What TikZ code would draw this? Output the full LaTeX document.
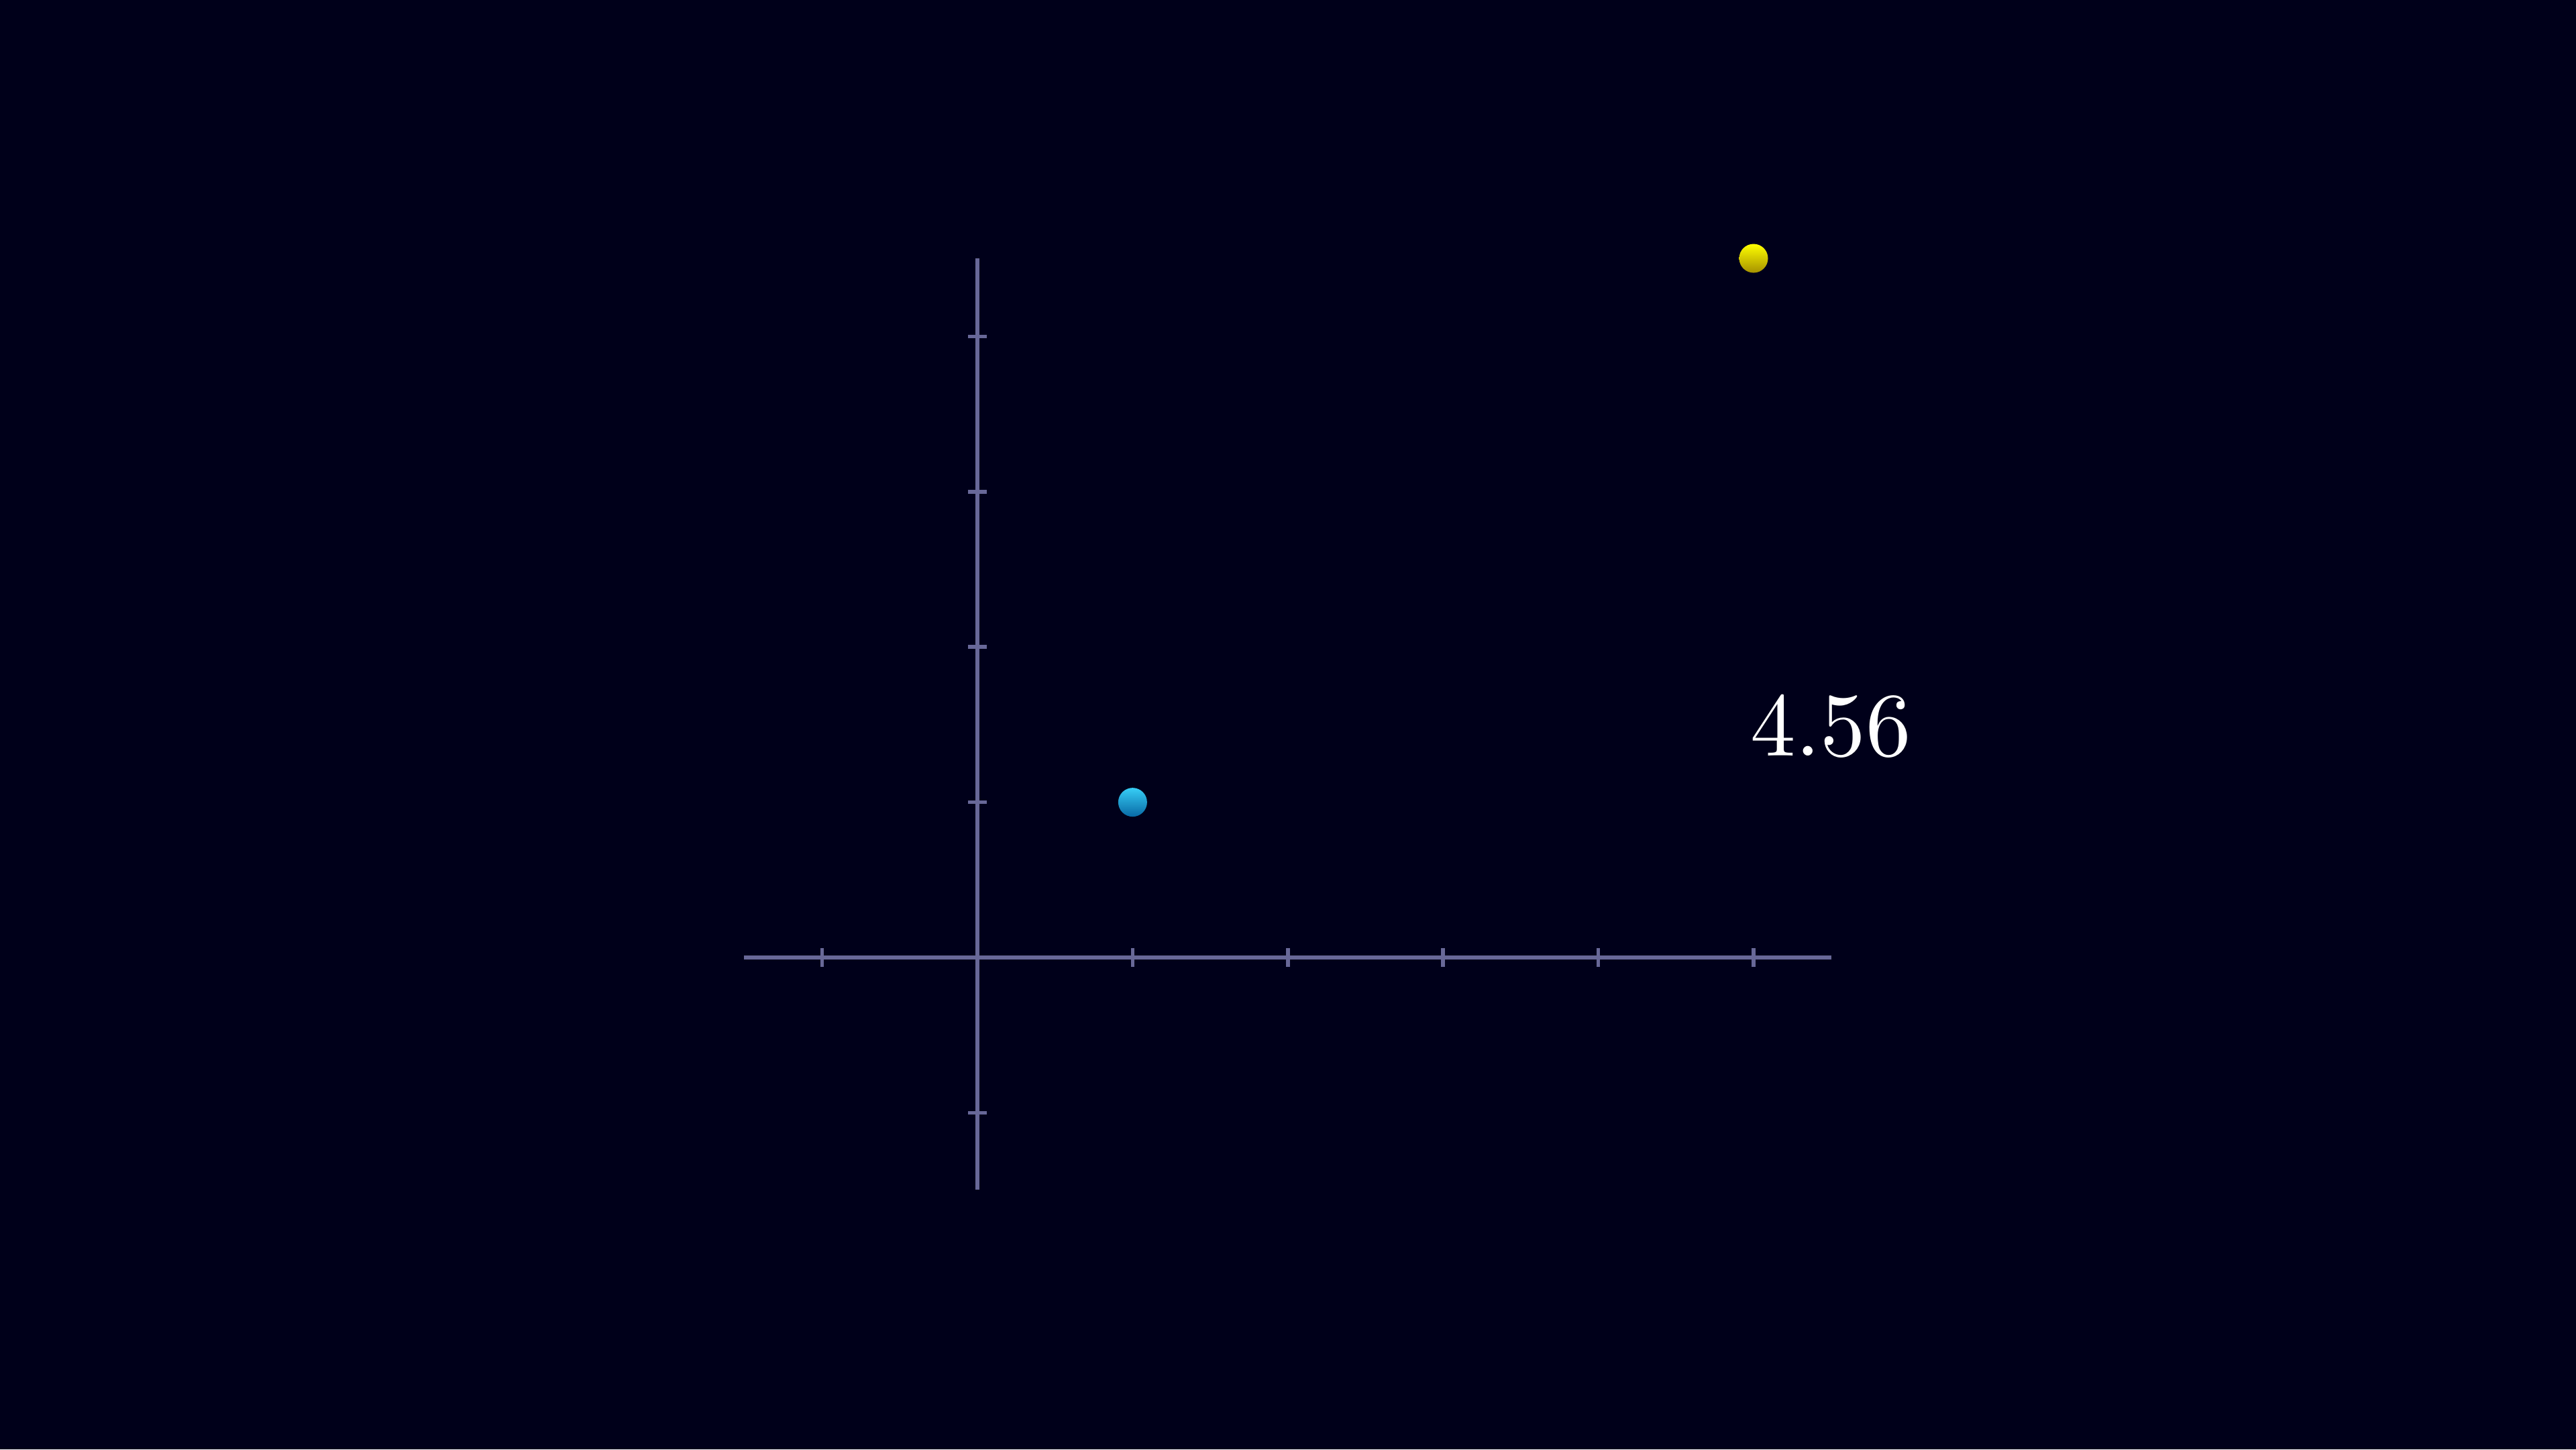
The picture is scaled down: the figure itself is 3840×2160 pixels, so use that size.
\documentclass[tikz,border=0pt]{standalone}
\usetikzlibrary{shadings}
\definecolor{bg}{RGB}{0,0,26}
\definecolor{axiscol}{RGB}{104,104,152}
\definecolor{bluetop}{RGB}{55,205,245}
\definecolor{bluebot}{RGB}{8,105,165}
\definecolor{yeltop}{RGB}{255,255,0}
\definecolor{yelbot}{RGB}{165,145,0}
\font\bignumfont=cmr10 at 13.5pt
\tikzset{
  axis/.style={draw=axiscol, line width=0.56pt},
  tickmark/.style={draw=axiscol, line width=0.56pt},
  bluedot/.style={circle, inner sep=0pt, minimum size=4.3pt, top color=bluetop, bottom color=bluebot, draw=none},
  yellowdot/.style={circle, inner sep=0pt, minimum size=4.3pt, top color=yeltop, bottom color=yelbot, draw=none},
  numlabel/.style={text=white, inner sep=0pt, anchor=base, font=\bignumfont}
}
\begin{document}
\begin{tikzpicture}[x=0.1pt,y=-0.1pt]
\fill[bg] (0,0) rectangle (3840,2160);
\useasboundingbox (0,0) rectangle (3840,2160);
% axes
\coordinate (xl) at (1109,1427);
\coordinate (xr) at (2730,1427);
\coordinate (yt) at (1457,385);
\coordinate (yb) at (1457,1773);
\draw[axis] (xl) -- (xr);
\draw[axis] (yb) -- (yt);
% ticks on x
\foreach \i in {-1,1,2,3,4,5} {
  \draw[tickmark] (1457+231.4*\i,1413) -- (1457+231.4*\i,1441);
}
% ticks on y
\foreach \j in {-1,1,2,3,4} {
  \draw[tickmark] (1443,1427-231.4*\j) -- (1471,1427-231.4*\j);
}
\node[bluedot] (p) at (1688.4,1195.6) {};
\node[yellowdot] (q) at (2614,385) {};
\node[numlabel] (v) at (2729,1126) {4.56};
\end{tikzpicture}
\end{document}
